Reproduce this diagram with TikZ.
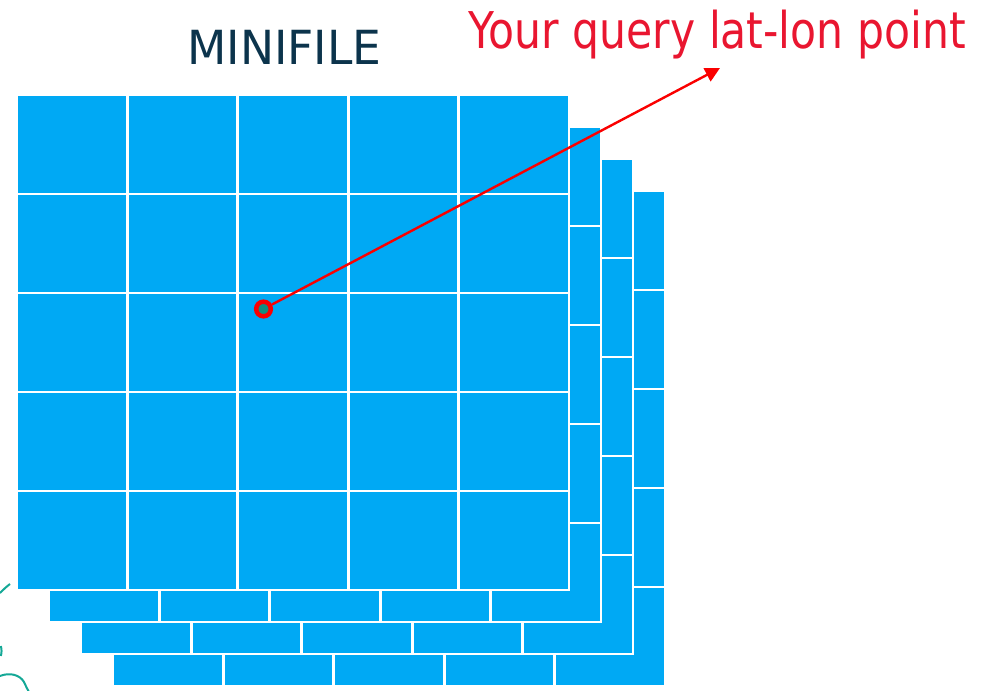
\documentclass[tikz,border=0pt]{standalone}
\usepackage{fontspec}
\setmainfont{DejaVu Sans}
\newfontfamily\titlefont[FakeStretch=0.97]{DejaVu Sans}
\newfontfamily\labelfont[FakeStretch=0.84]{DejaVu Sans}
\usetikzlibrary{arrows.meta}

\definecolor{tileblue}{RGB}{0,169,244}
\definecolor{titlenavy}{RGB}{12,52,76}
\definecolor{labelred}{RGB}{233,22,48}
\definecolor{arrowred}{RGB}{250,0,0}
\definecolor{sketchteal}{RGB}{20,168,150}

\tikzset{
  layer/.style={fill=tileblue, draw=white, line width=2pt},
  gridline/.style={draw=white, line width=2pt},
  titletext/.style={inner sep=0pt, anchor=base west, text=titlenavy,
    font=\titlefont\fontsize{35.25pt}{40pt}\selectfont},
  labeltext/.style={inner sep=0pt, anchor=base west, text=labelred,
    font=\labelfont\fontsize{38pt}{44pt}\selectfont},
  querypoint/.style={circle, draw=arrowred, fill=sketchteal!85!black,
    line width=3.4pt, minimum size=11pt, inner sep=0pt},
  pointer/.style={draw=arrowred, line width=1.8pt,
    -{Triangle[length=11pt, width=11pt]}},
  teal curve/.style={draw=sketchteal, line width=1.5pt}
}

\begin{document}
\begin{tikzpicture}[x=0.75pt, y=-0.75pt]
  \useasboundingbox (0,0) rectangle (986,691);
  \begin{scope}
    \clip (0,0) rectangle (986,691);

    % stacked 5x5 tile layers, back to front
    \foreach \k in {3,2,1,0} {
      \pgfmathsetmacro{\ox}{17+32*\k}
      \pgfmathsetmacro{\oy}{95+32*\k}
      \path[layer] (\ox,\oy) rectangle ({\ox+552},{\oy+495});
      \foreach \i in {1,...,4} {
        \draw[gridline] ({\ox+110.4*\i},\oy) -- ({\ox+110.4*\i},{\oy+495});
        \draw[gridline] (\ox,{\oy+99*\i}) -- ({\ox+552},{\oy+99*\i});
      }
    }

    % fragments of a sketch at the lower left edge
    \draw[teal curve] (10,584) .. controls (6,587) and (3,590) .. (0,593);
    \draw[teal curve] (0.8,646) .. controls (1.8,649) and (1.8,653) .. (0.8,656);
    \draw[teal curve] (0,676) .. controls (10,672) and (20,675) .. (24,682)
      .. controls (26,686) and (27,689) .. (29,692);
  \end{scope}

  % labels
  \node[titletext] (title) at (187,65) {MINIFILE};
  \node[labeltext] (label) at (468,49) {Your query lat-lon point};

  % query point and pointer
  \node[querypoint] (pt) at (263.5,309) {};
  \coordinate (tip) at (720,68);
  \draw[pointer] (pt) -- (tip);
\end{tikzpicture}
\end{document}
